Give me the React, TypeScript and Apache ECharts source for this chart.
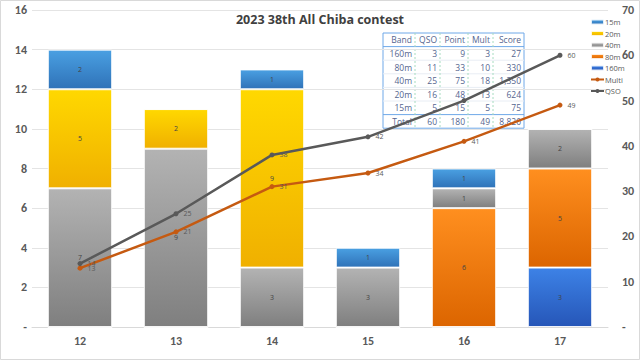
import React, { useEffect, useRef } from "react";
import * as echarts from "echarts";

const hours = ["12", "13", "14", "15", "16", "17"];
const band15m = [2, 0, 1, 1, 1, 0];
const band20m = [5, 2, 9, 0, 0, 0];
const band40m = [7, 9, 3, 3, 1, 2];
const band80m = [0, 0, 0, 0, 6, 5];
const band160m = [0, 0, 0, 0, 0, 3];
const multiCum = [13, 21, 31, 34, 41, 49];
const qsoCum = [14, 25, 38, 42, 50, 60];

const tableHeader = ["Band", "QSO", "Point", "Mult", "Score"];
const tableBands = ["160m", "80m", "40m", "20m", "15m", "Total"];
const tableQso = ["3", "11", "25", "16", "5", "60"];
const tablePoint = ["9", "33", "75", "48", "15", "180"];
const tableMult = ["3", "10", "18", "13", "5", "49"];
const tableScore = ["27", "330", "1,350", "624", "75", "8,820"];

const grad = (a: string, b: string) =>
  new echarts.graphic.LinearGradient(0, 0, 0, 1, [
    { offset: 0, color: a },
    { offset: 1, color: b },
  ]);

function buildTable() {
  const x0 = 383;
  const y0 = 33;
  const colX = [383, 415, 440, 468, 493, 524];
  const rowH = 13.6;
  const rows = [tableHeader].concat(
    tableBands.map((b, i) => [b, tableQso[i], tablePoint[i], tableMult[i], tableScore[i]])
  );
  const width = colX[colX.length - 1] - x0;
  const height = rowH * rows.length;
  const children: any[] = [];
  children.push({
    type: "rect",
    shape: { x: x0, y: y0, width, height },
    style: { fill: "#ffffff", stroke: "#6fa8e8", lineWidth: 1 },
  });
  for (let r = 1; r < rows.length; r++) {
    const y = y0 + r * rowH;
    const strong = r === 1 || r === rows.length - 1;
    children.push({
      type: "line",
      shape: { x1: x0, y1: y, x2: x0 + width, y2: y },
      style: { stroke: strong ? "#6fa8e8" : "#e8edf4", lineWidth: 1 },
    });
  }
  for (let c = 1; c < colX.length - 1; c++) {
    children.push({
      type: "line",
      shape: { x1: colX[c], y1: y0, x2: colX[c], y2: y0 + height },
      style: { stroke: "#a6dcc0", lineWidth: 1, lineDash: [2, 2] },
    });
  }
  rows.forEach((row, r) => {
    row.forEach((cell, c) => {
      children.push({
        type: "text",
        x: colX[c + 1] - 3,
        y: y0 + r * rowH + rowH / 2,
        style: {
          text: cell,
          fill: "#55668f",
          font: "8.5px 'Open Sans', sans-serif",
          align: "right",
          verticalAlign: "middle",
        },
      });
    });
  });
  return children;
}

export default function App() {
  const ref = useRef<HTMLDivElement>(null);
  useEffect(() => {
    document.body.style.margin = "0";
    const chart = echarts.init(ref.current!, null, { renderer: "svg" });
    const barLabel = {
      show: true,
      position: "inside",
      fontSize: 7,
      color: "#444",
      formatter: (p: any) => (p.value ? String(p.value) : ""),
    };
    const barCommon = {
      type: "bar",
      stack: "total",
      barWidth: "67%",
      label: barLabel,
      itemStyle: { borderColor: "rgba(255,255,255,0.85)", borderWidth: 1 },
    };
    const axisLabelStyle = {
      fontSize: 12,
      fontWeight: "bold",
      color: "#595959",
      fontFamily: "Calibri, 'Liberation Sans', 'Open Sans', sans-serif",
    };
    // the table covers the QSO point at hour 16, so its label is hidden there as in the reference
    const qsoData = qsoCum.map((v, i) =>
      hours[i] === "16" ? { value: v, label: { show: false } } : v
    );
    chart.setOption({
      animation: false,
      backgroundColor: "#ffffff",
      textStyle: { fontFamily: "'Open Sans', 'Liberation Sans', sans-serif" },
      title: {
        text: "2023 38th All Chiba contest",
        left: "center",
        top: 8,
        textStyle: { fontSize: 12.5, fontWeight: "bold", color: "#404040" },
      },
      grid: { left: 32, right: 32, top: 10, bottom: 33 },
      legend: {
        orient: "vertical",
        left: 585,
        top: 13,
        itemGap: 3.5,
        itemWidth: 13,
        itemHeight: 5,
        textStyle: { fontSize: 7.5, color: "#595959", padding: [0, 0, 0, -4] },
        data: ["15m", "20m", "40m", "80m", "160m", "Multi", "QSO"],
      },
      xAxis: {
        type: "category",
        data: hours,
        axisLine: { show: true, lineStyle: { color: "#d9d9d9" } },
        axisTick: { show: false },
        axisLabel: { ...axisLabelStyle, margin: 8 },
      },
      yAxis: [
        {
          type: "value",
          min: 0,
          max: 16,
          interval: 2,
          axisLine: { show: false },
          axisTick: { show: false },
          splitLine: { lineStyle: { color: "#e4e4e4" } },
          axisLabel: {
            ...axisLabelStyle,
            margin: 5,
            formatter: (v: number) => (v === 0 ? "-" : String(v)),
          },
        },
        {
          type: "value",
          min: 0,
          max: 70,
          interval: 10,
          axisLine: { show: false },
          axisTick: { show: false },
          splitLine: { show: false },
          axisLabel: {
            ...axisLabelStyle,
            margin: 14,
            formatter: (v: number) => (v === 0 ? "-" : String(v)),
          },
        },
      ],
      graphic: [
        {
          type: "rect",
          shape: { x: 0.5, y: 0.5, width: 639, height: 359 },
          style: { fill: "none", stroke: "#d9d9d9", lineWidth: 1 },
          z: 100,
        },
        { type: "group", z: 90, children: buildTable() },
      ],
      series: [
        {
          ...barCommon,
          name: "160m",
          data: band160m,
          itemStyle: { ...barCommon.itemStyle, color: grad("#3d82e6", "#2656b8") },
        },
        {
          ...barCommon,
          name: "80m",
          data: band80m,
          itemStyle: { ...barCommon.itemStyle, color: grad("#ff8f1f", "#dc6500") },
        },
        {
          ...barCommon,
          name: "40m",
          data: band40m,
          itemStyle: { ...barCommon.itemStyle, color: grad("#b3b3b3", "#7f7f7f") },
        },
        {
          ...barCommon,
          name: "20m",
          data: band20m,
          itemStyle: { ...barCommon.itemStyle, color: grad("#ffd800", "#f0b000") },
        },
        {
          ...barCommon,
          name: "15m",
          data: band15m,
          itemStyle: { ...barCommon.itemStyle, color: grad("#4aa0e2", "#2f72b8") },
        },
        {
          name: "Multi",
          type: "line",
          yAxisIndex: 1,
          data: multiCum,
          symbol: "circle",
          symbolSize: 5,
          lineStyle: { color: "#c55a11", width: 2.5 },
          itemStyle: { color: "#c55a11" },
          label: { show: true, position: "right", fontSize: 7, color: "#595959", distance: 5 },
          z: 5,
        },
        {
          name: "QSO",
          type: "line",
          yAxisIndex: 1,
          data: qsoData,
          symbol: "circle",
          symbolSize: 5,
          lineStyle: { color: "#595959", width: 2.5 },
          itemStyle: { color: "#595959" },
          label: { show: true, position: "right", fontSize: 7, color: "#595959", distance: 5 },
          z: 5,
        },
      ],
    });
    return () => chart.dispose();
  }, []);
  return <div ref={ref} style={{ width: 640, height: 360 }} />;
}
